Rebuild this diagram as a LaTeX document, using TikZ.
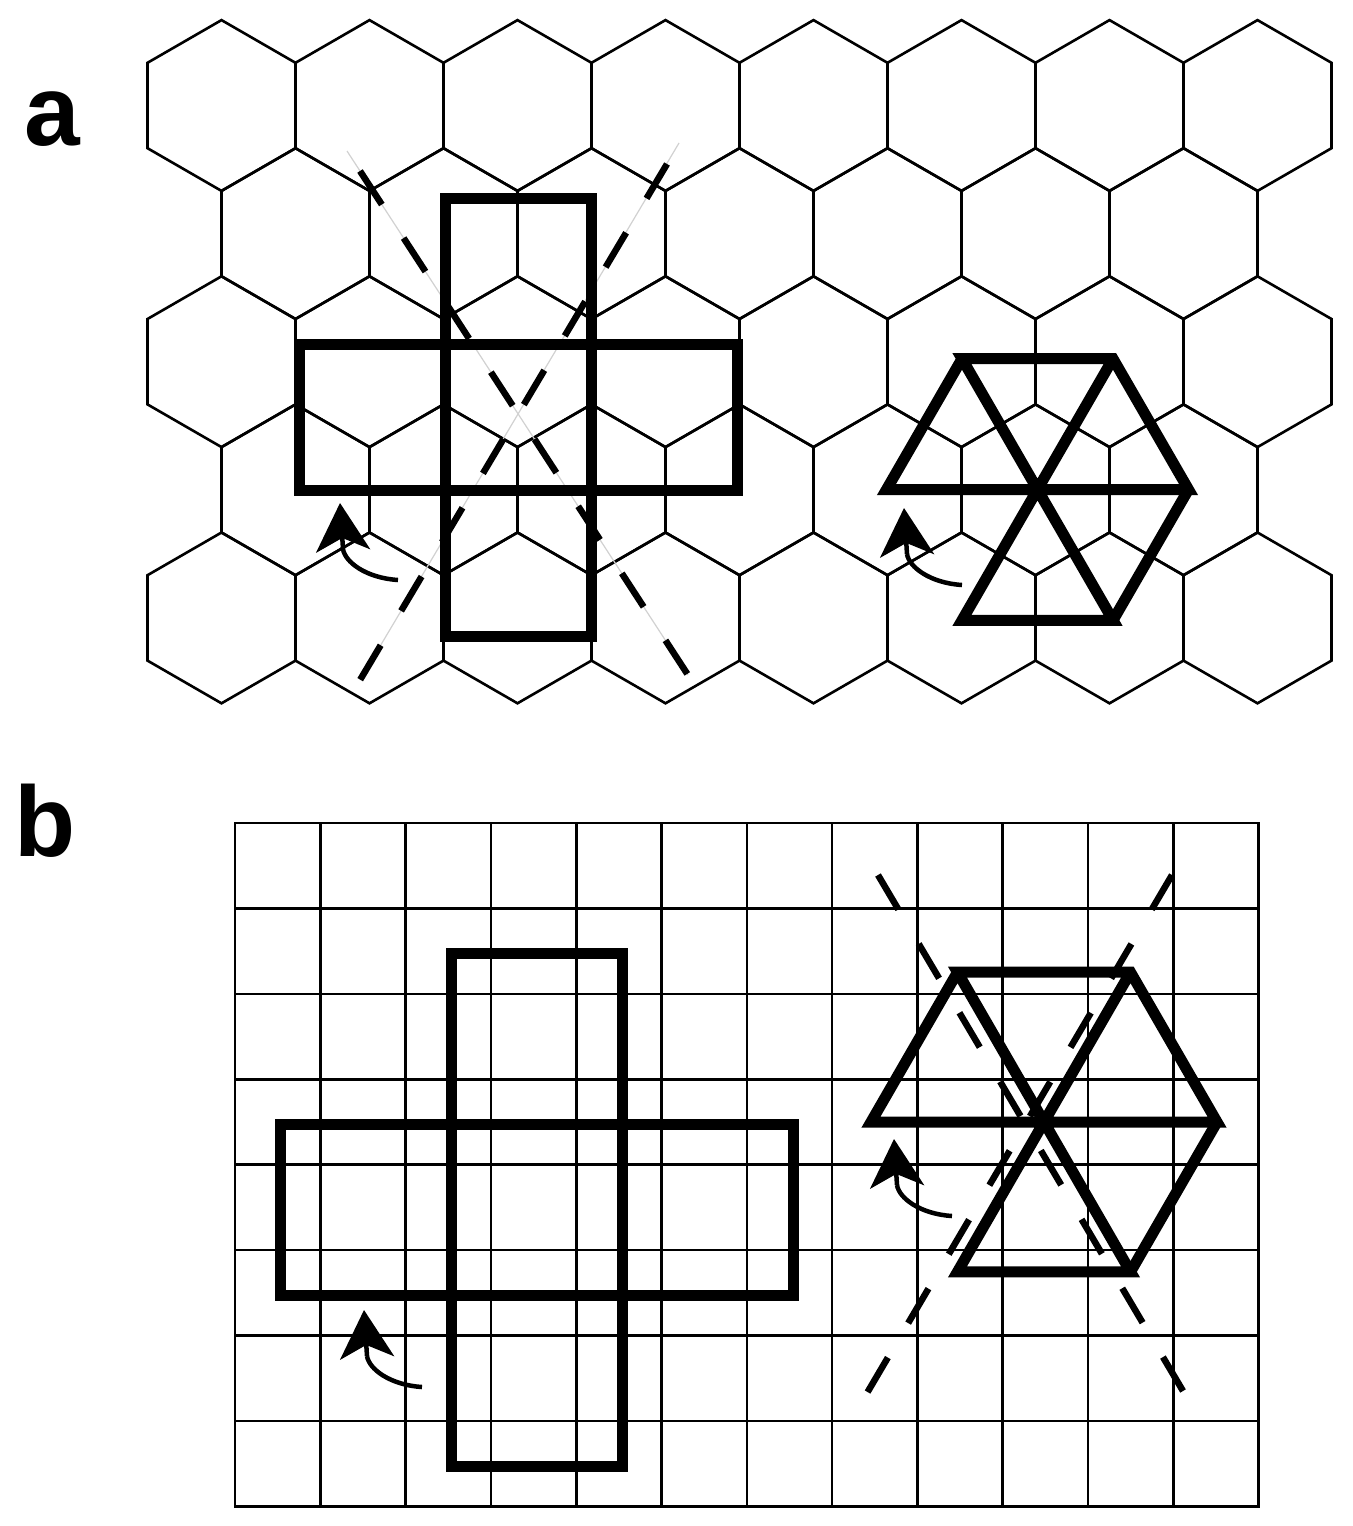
\documentclass[tikz,border=0pt]{standalone}
\usepackage{fontspec}
\setmainfont{Liberation Sans}
\usetikzlibrary{arrows.meta}
% curved rotation arrow: #1 name, #2 tail x, #3 tail y
\newcommand\rotarrow[3]{%
  \coordinate (#1t) at (#2,#3);
  \coordinate (#1b) at (#2-55,#3-31);
  \coordinate (#1h) at (#2-58,#3-77);
  \draw[arrline] (#1t) .. controls (#2-32,#3-2) and (#2-53,#3-18) .. (#1b);
  \draw[arrline,-{Stealth[length=48pt,width=54pt,inset=13pt]}] (#1b) -- (#1h);
}
% triangle net: #1 name, #2 cx, #3 cy, #4 R
\newcommand\trinet[4]{%
  \coordinate (#1L) at (#2-#4,#3);
  \coordinate (#1R) at (#2+#4,#3);
  \coordinate (#1TL) at (#2-0.5*#4,#3-0.866*#4);
  \coordinate (#1TR) at (#2+0.5*#4,#3-0.866*#4);
  \coordinate (#1BL) at (#2-0.5*#4,#3+0.866*#4);
  \coordinate (#1BR) at (#2+0.5*#4,#3+0.866*#4);
  \draw[boldline] (#1TL) -- (#1L) -- (#1R) -- (#1TR) -- (#1TL) -- (#1BR) -- (#1BL) -- (#1TR);
  \draw[boldline] (#1R) -- (#1BR);
}
\begin{document}
\begin{tikzpicture}[x=1pt,y=-1pt,
  hexline/.style={line width=2.6pt,line join=miter},
  gridline/.style={line width=2.6pt,line cap=rect},
  boldline/.style={line width=11pt,line join=miter},
  dashline/.style={line width=6.5pt,dash pattern=on 40pt off 40pt},
  thingray/.style={line width=1.2pt,draw=black!18},
  arrline/.style={line width=4.5pt},
  panellabel/.style={anchor=base west,inner sep=0pt,font=\bfseries\fontsize{100}{100}\selectfont}]
\useasboundingbox (0,0) rectangle (1352,1526);
\fill[white] (0,0) rectangle (1352,1526);

% ---------- panel a : hexagonal lattice ----------
\node[panellabel] (la) at (24,145) {a};
\foreach \k in {0,2,4}{
  \foreach \j in {0,...,7}{
    \pgfmathsetmacro\cx{221.5+148*\j}
    \pgfmathsetmacro\cy{105.5+128.1*\k}
    \draw[hexline] (\cx,\cy-85.4) -- (\cx+74,\cy-42.7) -- (\cx+74,\cy+42.7) -- (\cx,\cy+85.4) -- (\cx-74,\cy+42.7) -- (\cx-74,\cy-42.7) -- cycle;
  }
}
\foreach \k in {1,3}{
  \foreach \j in {0,...,6}{
    \pgfmathsetmacro\cx{295.5+148*\j}
    \pgfmathsetmacro\cy{105.5+128.1*\k}
    \draw[hexline] (\cx,\cy-85.4) -- (\cx+74,\cy-42.7) -- (\cx+74,\cy+42.7) -- (\cx,\cy+85.4) -- (\cx-74,\cy+42.7) -- (\cx-74,\cy-42.7) -- cycle;
  }
}
% mirror lines
\coordinate (m1s) at (347,151);
\coordinate (m1a) at (360,171);
\coordinate (m1e) at (688,675);
\coordinate (m2s) at (679,143);
\coordinate (m2a) at (667,164);
\coordinate (m2e) at (360,680);
\draw[thingray] (m1s) -- (m1e);
\draw[thingray] (m2s) -- (m2e);
\draw[dashline] (m1a) -- (m1e);
\draw[dashline] (m2a) -- (m2e);
% cross
\draw[boldline] (445.5,198) rectangle (591.5,636);
\draw[boldline] (299.5,344) rectangle (737.5,490);
% triangle net
\trinet{sa}{1037.5}{489.5}{151}
% rotation arrows
\rotarrow{ra1}{398}{580}
\rotarrow{ra2}{962}{585}

% ---------- panel b : square lattice ----------
\node[panellabel] (lb) at (14,856) {b};
\foreach \i in {0,...,12}{
  \draw[gridline] (235+85.3*\i,823) -- (235+85.3*\i,1506.2);
}
\foreach \j in {0,...,8}{
  \draw[gridline] (235,823+85.4*\j) -- (1258.6,823+85.4*\j);
}
% cross
\draw[boldline] (451.5,953.5) rectangle (622.5,1466.5);
\draw[boldline] (280.5,1124.5) rectangle (793.5,1295.5);
% triangle net
\trinet{sb}{1044}{1122}{173}
% mirror lines
\coordinate (n1a) at (878,875);
\coordinate (n1e) at (1183,1391);
\coordinate (n2a) at (1172,875);
\coordinate (n2e) at (867,1393);
\draw[dashline] (n1a) -- (n1e);
\draw[dashline] (n2a) -- (n2e);
% rotation arrows
\rotarrow{rb1}{422}{1387}
\rotarrow{rb2}{952}{1216}
\end{tikzpicture}
\end{document}
